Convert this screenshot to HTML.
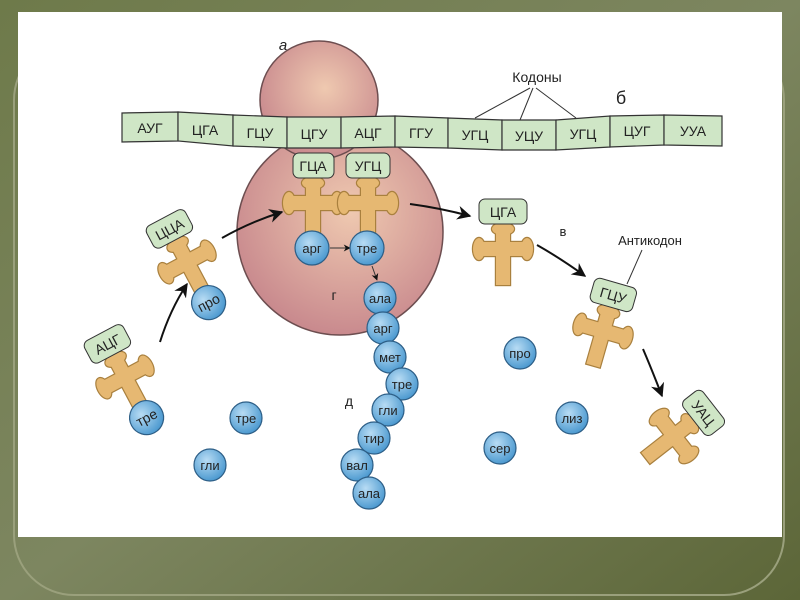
<!DOCTYPE html>
<html><head><meta charset="utf-8"><style>
html,body{margin:0;padding:0;width:800px;height:600px;overflow:hidden;background:#5f6a3e}
svg{display:block}
text{font-family:"Liberation Sans",sans-serif}
</style></head><body>
<svg width="800" height="600" viewBox="0 0 800 600" xmlns="http://www.w3.org/2000/svg">
<defs>
<linearGradient id="bg" x1="0" y1="0" x2="1" y2="1">
<stop offset="0" stop-color="#6e7a4a"/><stop offset="0.5" stop-color="#7d8660"/><stop offset="1" stop-color="#5c6638"/></linearGradient>
<radialGradient id="rib" cx="0.55" cy="0.4" r="0.6">
<stop offset="0" stop-color="#efc9b0"/><stop offset="1" stop-color="#c98a8e"/></radialGradient>
<radialGradient id="aa" cx="0.4" cy="0.35" r="0.65">
<stop offset="0" stop-color="#b8dcf4"/><stop offset="1" stop-color="#4d9ad0"/></radialGradient>
<marker id="ah" viewBox="0 0 10 10" refX="9" refY="5" markerWidth="7" markerHeight="7" orient="auto">
<path d="M0,0 L10,5 L0,10 L3,5 z" fill="#111"/></marker>
<g id="cs">
<rect x="-7" y="-27" width="14" height="63"/>
<rect x="-24" y="-7" width="48" height="14"/>
<ellipse cx="-24" cy="0" rx="6" ry="11"/>
<ellipse cx="24" cy="0" rx="6" ry="11"/>
<ellipse cx="0" cy="-20" rx="11" ry="6"/>
</g>
<g id="cross">
<use href="#cs" fill="#a9803e" stroke="#a9803e" stroke-width="2.4"/>
<use href="#cs" fill="#e6b872"/>
</g>
</defs>
<rect width="800" height="600" fill="url(#bg)"/>
<rect x="14" y="40" width="770" height="555" rx="60" fill="none" stroke="#9aa07c" stroke-width="2"/>
<rect x="18" y="12" width="764" height="525" fill="#fff"/>

<!-- ribosome -->
<circle cx="340" cy="232" r="103" fill="url(#rib)" stroke="#6d4e50" stroke-width="1.5"/>
<circle cx="319" cy="100" r="59" fill="url(#rib)" stroke="#6d4e50" stroke-width="1.5"/>

<!-- mRNA -->
<g stroke="#333" stroke-width="1.2" fill="#cfe6c6">
<polygon points="122,113 178,112 178,141 122,142"/>
<polygon points="178,112 233,115 233,146 178,141"/>
<polygon points="233,115 287,117 287,148 233,146"/>
<polygon points="287,117 341,117 341,148 287,148"/>
<polygon points="341,117 395,116 395,147 341,148"/>
<polygon points="395,116 448,118 448,148 395,147"/>
<polygon points="448,118 502,120 502,150 448,148"/>
<polygon points="502,120 556,120 556,150 502,150"/>
<polygon points="556,120 610,116 610,147 556,150"/>
<polygon points="610,116 664,115 664,145 610,147"/>
<polygon points="664,115 722,116 722,146 664,145"/>
</g>
<g font-size="14" fill="#222" text-anchor="middle">
<text x="150" y="133">АУГ</text><text x="205" y="135">ЦГА</text><text x="260" y="138">ГЦУ</text>
<text x="314" y="139">ЦГУ</text><text x="368" y="138">АЦГ</text><text x="421" y="138">ГГУ</text>
<text x="475" y="140">УГЦ</text><text x="529" y="141">УЦУ</text><text x="583" y="139">УГЦ</text>
<text x="637" y="136">ЦУГ</text><text x="693" y="136">УУА</text>
</g>
<g font-size="15" fill="#222" text-anchor="middle">
<text x="283" y="50" font-style="italic">а</text>
<text x="537" y="82" font-size="14">Кодоны</text>
<text x="621" y="104" font-size="18">б</text>
<text x="563" y="236" font-size="13">в</text>
<text x="334" y="300" font-size="14">г</text>
<text x="349" y="406" font-size="14">д</text>
<text x="650" y="245" font-size="13">Антикодон</text>
</g>
<g stroke="#333" stroke-width="1" fill="none">
<path d="M530,88 L475,118"/><path d="M533,88 L520,120"/><path d="M536,88 L576,118"/>
<path d="M642,250 L627,284"/>
</g>

<!-- arrows -->
<g stroke="#111" stroke-width="2" fill="none" marker-end="url(#ah)">
<path d="M222,238 Q250,222 282,212"/>
<path d="M160,342 Q170,310 187,284"/>
<path d="M410,204 Q440,208 470,216"/>
<path d="M537,245 Q560,258 585,276"/>
<path d="M643,349 Q652,370 662,396"/>
</g>
<path d="M330,248 L350,248" stroke="#333" stroke-width="1" marker-end="url(#ah)"/>
<path d="M372,266 L377,280" stroke="#333" stroke-width="1" marker-end="url(#ah)"/>

<!-- tRNAs -->
<g transform="translate(313,203)">
<use href="#cross"/><rect x="-20" y="-50" width="41" height="25" rx="6" fill="#cfe6c6" stroke="#333"/>
<text x="0" y="-32" font-size="14" text-anchor="middle" fill="#222">ГЦА</text></g>
<g transform="translate(368,203)">
<use href="#cross"/><rect x="-22" y="-50" width="44" height="25" rx="6" fill="#cfe6c6" stroke="#333"/>
<text x="0" y="-32" font-size="14" text-anchor="middle" fill="#222">УГЦ</text></g>
<g transform="translate(187,262) rotate(-28)">
<use href="#cross"/><rect x="-22" y="-50" width="44" height="25" rx="6" fill="#cfe6c6" stroke="#333"/>
<text x="0" y="-32" font-size="14" text-anchor="middle" fill="#222">ЦЦА</text>
<circle cx="0" cy="46" r="17" fill="url(#aa)" stroke="#2d5e86" stroke-width="1.2"/>
<text x="0" y="51" font-size="14" text-anchor="middle" fill="#222">про</text></g>
<g transform="translate(125,377) rotate(-28)">
<use href="#cross"/><rect x="-22" y="-50" width="44" height="25" rx="6" fill="#cfe6c6" stroke="#333"/>
<text x="0" y="-32" font-size="14" text-anchor="middle" fill="#222">АЦГ</text>
<circle cx="0" cy="46" r="17" fill="url(#aa)" stroke="#2d5e86" stroke-width="1.2"/>
<text x="0" y="51" font-size="14" text-anchor="middle" fill="#222">тре</text></g>
<g transform="translate(503,249)">
<use href="#cross"/><rect x="-24" y="-50" width="48" height="25" rx="6" fill="#cfe6c6" stroke="#333"/>
<text x="0" y="-32" font-size="14" text-anchor="middle" fill="#222">ЦГА</text></g>
<g transform="translate(603,331) rotate(16)">
<use href="#cross"/><rect x="-22" y="-50" width="44" height="25" rx="6" fill="#cfe6c6" stroke="#333"/>
<text x="0" y="-32" font-size="14" text-anchor="middle" fill="#222">ГЦУ</text></g>
<g transform="translate(674,436) rotate(52)">
<use href="#cross"/><rect x="-22" y="-50" width="44" height="25" rx="6" fill="#cfe6c6" stroke="#333"/>
<text x="0" y="-32" font-size="14" text-anchor="middle" fill="#222">УАЦ</text></g>

<!-- amino acids -->
<g stroke="#2d5e86" stroke-width="1.2" fill="url(#aa)">
<circle cx="312" cy="248" r="17"/><circle cx="367" cy="248" r="17"/>
<circle cx="380" cy="298" r="16"/><circle cx="383" cy="328" r="16"/><circle cx="390" cy="357" r="16"/>
<circle cx="402" cy="384" r="16"/><circle cx="388" cy="410" r="16"/><circle cx="374" cy="438" r="16"/>
<circle cx="357" cy="465" r="16"/><circle cx="369" cy="493" r="16"/>
<circle cx="246" cy="418" r="16"/><circle cx="210" cy="465" r="16"/>
<circle cx="520" cy="353" r="16"/><circle cx="572" cy="418" r="16"/><circle cx="500" cy="448" r="16"/>
</g>
<g font-size="13" fill="#222" text-anchor="middle">
<text x="312" y="253">арг</text><text x="367" y="253">тре</text>
<text x="380" y="303">ала</text><text x="383" y="333">арг</text><text x="390" y="362">мет</text>
<text x="402" y="389">тре</text><text x="388" y="415">гли</text><text x="374" y="443">тир</text>
<text x="357" y="470">вал</text><text x="369" y="498">ала</text>
<text x="246" y="423">тре</text><text x="210" y="470">гли</text>
<text x="520" y="358">про</text><text x="572" y="423">лиз</text><text x="500" y="453">сер</text>
</g>
</svg>
</body></html>
